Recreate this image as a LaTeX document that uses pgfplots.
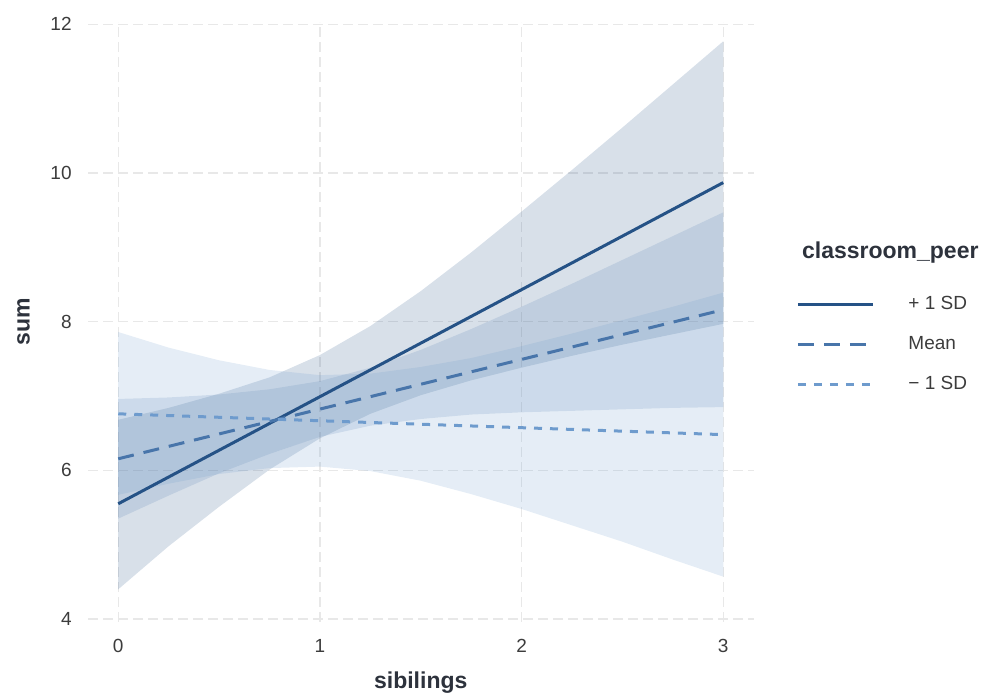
\documentclass[border=0pt]{standalone}
\usepackage{fontspec}
\setmainfont{Liberation Sans}
\usepackage{pgfplots}
\pgfplotsset{compat=1.18}
\definecolor{cplus}{RGB}{37,82,134}
\definecolor{cmean}{RGB}{72,117,170}
\definecolor{cminus}{RGB}{110,155,205}
\definecolor{gridc}{RGB}{232,232,232}
\definecolor{tickc}{RGB}{60,60,60}
\definecolor{titlec}{RGB}{45,50,60}
\begin{document}
\begin{tikzpicture}
\begin{axis}[
 at={(0pt,0pt)}, anchor=south west,
 width=332.75pt, height=300pt, scale only axis,
 xmin=-0.15, xmax=3.15, ymin=3.96, ymax=12.03,
 xtick={0,1,2,3}, ytick={4,6,8,10,12},
 axis line style={draw=none},
 major tick length=0pt,
 grid=major,
 major grid style={gridc, line width=0.6pt, dash pattern=on 5pt off 2.5pt},
 tick label style={font=\fontsize{9.5}{11}\selectfont, text=tickc, inner sep=0pt},
 /pgf/number format/assume math mode=true,
 xticklabel shift=8.5pt, yticklabel shift=8pt,
 xlabel={sibilings}, ylabel={sum},
 label style={font=\bfseries\fontsize{11.5}{13}\selectfont, text=titlec},
 xlabel style={at={(axis description cs:0.5,-0.1017)}, anchor=center},
 ylabel style={at={(axis description cs:-0.097,0.5)}, anchor=center},
 no markers,
 legend style={at={(axis description cs:1.064,0.5633)}, anchor=north west, draw=none, fill=none,
   inner sep=0pt, row sep=0pt, font=\fontsize{9.5}{11}\selectfont, text=tickc,
   nodes={inner sep=0pt, minimum height=20pt},
   /tikz/every odd column/.append style={column sep=17pt}},
 legend cell align=left,
 legend image code/.code={\draw[#1] (0pt,0pt) -- (37.5pt,0pt);},
]
% confidence bands
\addplot[forget plot, draw=none, fill=cplus, fill opacity=0.18] coordinates {
 (0,6.68)(0.25,6.84)(0.5,7.03)(0.75,7.25)(1,7.55)(1.25,7.94)(1.5,8.41)(1.75,8.93)(2,9.48)(2.25,10.04)(2.5,10.61)(2.75,11.19)(3,11.77)
 (3,7.97)(2.75,7.83)(2.5,7.69)(2.25,7.54)(2,7.38)(1.75,7.21)(1.5,7.01)(1.25,6.76)(1,6.43)(0.75,6.01)(0.5,5.51)(0.25,4.98)(0,4.40)};
\addplot[forget plot, draw=none, fill=cmean, fill opacity=0.16] coordinates {
 (0,6.96)(0.25,6.98)(0.5,7.02)(0.75,7.09)(1,7.20)(1.25,7.38)(1.5,7.62)(1.75,7.90)(2,8.20)(2.25,8.51)(2.5,8.83)(2.75,9.15)(3,9.47)
 (3,6.85)(2.75,6.84)(2.5,6.82)(2.25,6.80)(2,6.78)(1.75,6.75)(1.5,6.69)(1.25,6.60)(1,6.45)(0.75,6.22)(0.5,5.96)(0.25,5.66)(0,5.35)};
\addplot[forget plot, draw=none, fill=cminus, fill opacity=0.18] coordinates {
 (0,7.86)(0.25,7.65)(0.5,7.48)(0.75,7.35)(1,7.28)(1.25,7.30)(1.5,7.39)(1.75,7.51)(2,7.67)(2.25,7.84)(2.5,8.02)(2.75,8.20)(3,8.39)
 (3,4.57)(2.75,4.80)(2.5,5.04)(2.25,5.26)(2,5.48)(1.75,5.68)(1.5,5.86)(1.25,5.99)(1,6.05)(0.75,6.03)(0.5,5.95)(0.25,5.82)(0,5.67)};
% lines
\addplot[cplus, line width=1.5pt] coordinates {(0,5.55)(3,9.87)};
\addlegendentry{+ 1 SD}
\addplot[cmean, line width=1.5pt, dash pattern=on 8pt off 5pt] coordinates {(0,6.155)(3,8.16)};
\addlegendentry{Mean}
\addplot[cminus, line width=1.5pt, dash pattern=on 4pt off 4pt] coordinates {(0,6.76)(3,6.48)};
\addlegendentry{− 1 SD}
\end{axis}
\node[anchor=west, inner sep=0pt, font=\bfseries\fontsize{11.5}{13}\selectfont, text=titlec] at (356.85pt,184.5pt) {classroom\_peer};
\pgfresetboundingbox
\useasboundingbox (-44pt,-36.5pt) rectangle (449pt,311pt);
\end{tikzpicture}
\end{document}
